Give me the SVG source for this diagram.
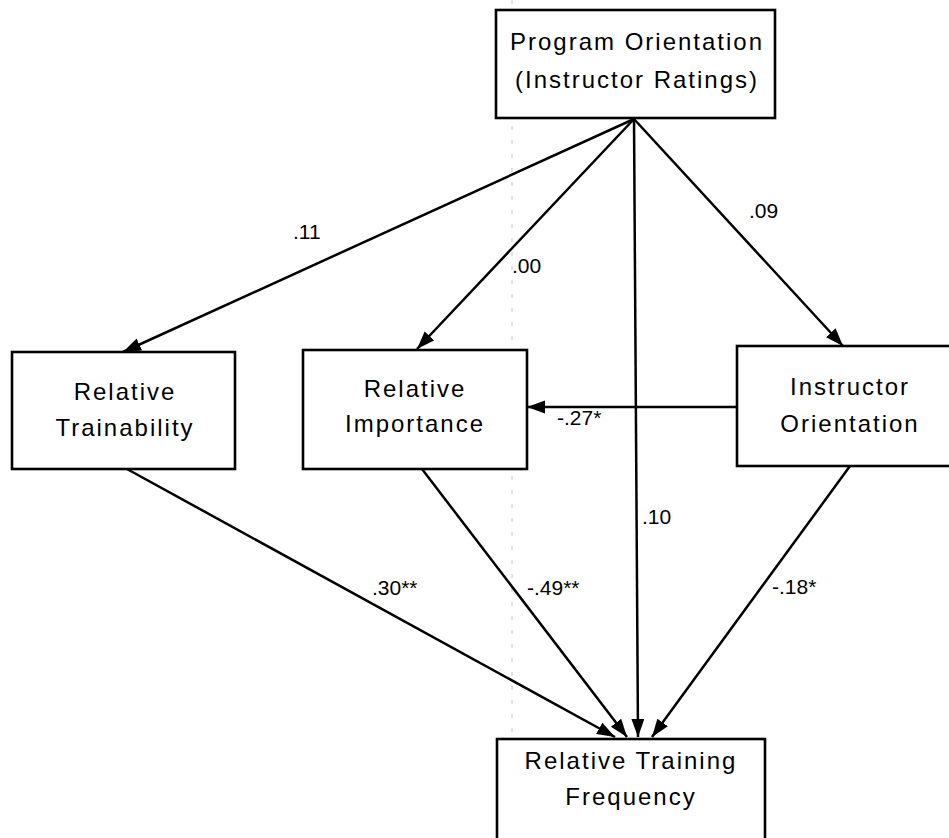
<svg xmlns="http://www.w3.org/2000/svg" width="949" height="838" viewBox="0 0 949 838">
  <style>
    .box { fill: #fff; stroke: #000; stroke-width: 2.6; }
    .lbl { font-family: "Liberation Sans", Arial, sans-serif; font-size: 24px; letter-spacing: 2px; fill: #000; text-anchor: middle; }
    .coef { font-family: "Liberation Sans", Arial, sans-serif; font-size: 21px; fill: #000; }
    .edge { stroke: #000; stroke-width: 2.5; fill: none; marker-end: url(#head); }
    .fold { stroke: #c4c4c4; stroke-width: 1; stroke-dasharray: 4 10; }
  </style>
  <defs>
    <marker id="head" markerUnits="userSpaceOnUse" markerWidth="20" markerHeight="14" refX="18" refY="6.5" orient="auto">
      <path d="M0,0 L18,6.5 L0,13 Z" fill="#000"/>
    </marker>
  </defs>

  <rect width="949" height="838" fill="#fff"/>

  <!-- faint vertical fold mark -->
  <line class="fold" x1="512" y1="0" x2="512" y2="838"/>

  <g id="connectors">
    <line class="edge" x1="634" y1="119" x2="123" y2="352"/>
    <line class="edge" x1="634" y1="119" x2="417" y2="349"/>
    <line class="edge" x1="634" y1="119" x2="843" y2="346"/>
    <line class="edge" x1="634" y1="119" x2="638" y2="737"/>
    <line class="edge" x1="737" y1="407" x2="527" y2="407"/>
    <line class="edge" x1="127" y1="469" x2="615" y2="737"/>
    <line class="edge" x1="422" y1="469" x2="627" y2="737"/>
    <line class="edge" x1="850" y1="466" x2="652" y2="737"/>

    <text class="coef" x="293" y="239">.11</text>
    <text class="coef" x="512" y="273">.00</text>
    <text class="coef" x="749" y="218">.09</text>
    <text class="coef" x="557" y="425">-.27*</text>
    <text class="coef" x="642" y="524">.10</text>
    <text class="coef" x="372" y="595">.30**</text>
    <text class="coef" x="527" y="595">-.49**</text>
    <text class="coef" x="772" y="594">-.18*</text>
  </g>

  <g id="program-orientation">
    <rect class="box" x="496" y="10" width="279" height="108"/>
    <text class="lbl" x="637" y="50">Program Orientation</text>
    <text class="lbl" x="637" y="88">(Instructor Ratings)</text>
  </g>

  <g id="relative-trainability">
    <rect class="box" x="12" y="352" width="223" height="117"/>
    <text class="lbl" x="125" y="400">Relative</text>
    <text class="lbl" x="125" y="436">Trainability</text>
  </g>

  <g id="relative-importance">
    <rect class="box" x="303" y="350" width="224" height="119"/>
    <text class="lbl" x="415" y="397">Relative</text>
    <text class="lbl" x="415" y="432">Importance</text>
  </g>

  <g id="instructor-orientation">
    <rect class="box" x="737" y="346" width="222" height="120"/>
    <text class="lbl" x="850" y="395">Instructor</text>
    <text class="lbl" x="850" y="432">Orientation</text>
  </g>

  <g id="relative-training-frequency">
    <rect class="box" x="497" y="739" width="268" height="110"/>
    <text class="lbl" x="631" y="769">Relative Training</text>
    <text class="lbl" x="631" y="805">Frequency</text>
  </g>
</svg>
